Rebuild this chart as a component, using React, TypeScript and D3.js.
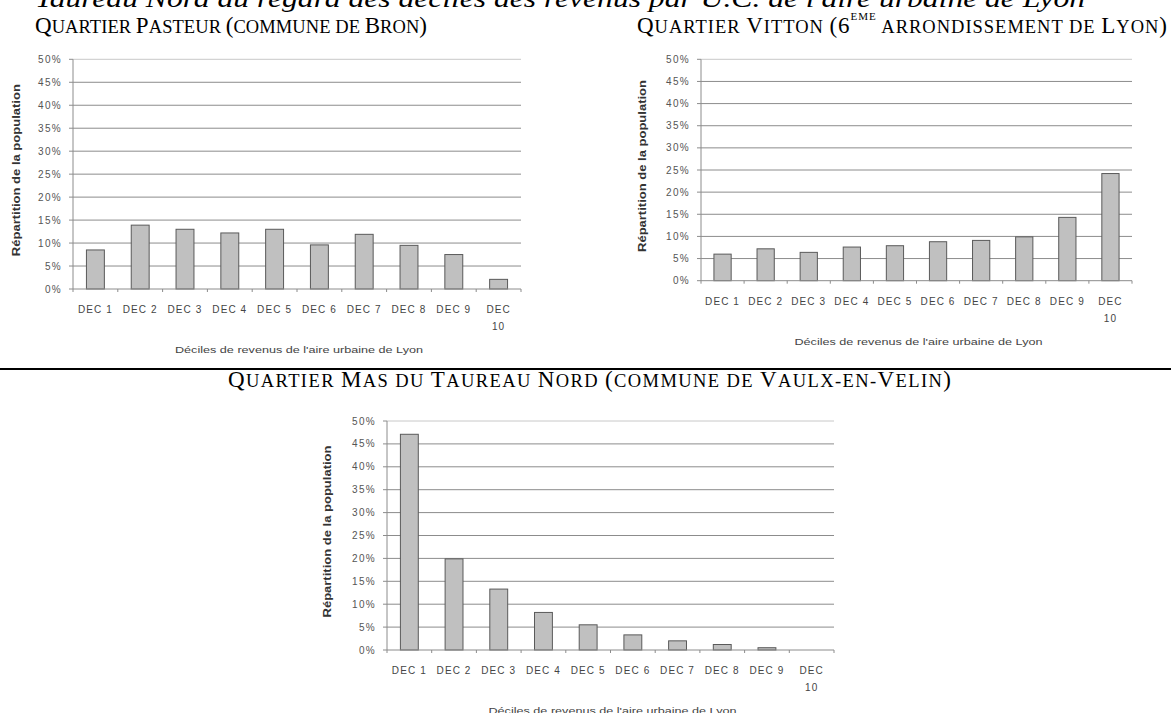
import React from 'react';
import * as d3 from 'd3';

// déciles de revenus (axe des x)
const categories = ['DEC 1', 'DEC 2', 'DEC 3', 'DEC 4', 'DEC 5', 'DEC 6', 'DEC 7', 'DEC 8', 'DEC 9', 'DEC 10'];
// répartition de la population, en %
const pasteur = [8.5, 13.9, 13.0, 12.2, 13.0, 9.6, 11.9, 9.5, 7.5, 2.1];
const vitton = [6.0, 7.2, 6.4, 7.6, 7.9, 8.8, 9.1, 9.9, 14.3, 24.2];
const masDuTaureau = [47.1, 19.9, 13.3, 8.2, 5.5, 3.3, 2.0, 1.2, 0.5, 0];
const yTicks = [0, 5, 10, 15, 20, 25, 30, 35, 40, 45, 50];

const yTitle = 'Répartition de la population';
const xTitle = "Déciles de revenus de l'aire urbaine de Lyon";
const mainTitle = "Taureau Nord au regard des déciles des revenus par U.C. de l'aire urbaine de Lyon";

const SANS = '"Liberation Sans", Arial, sans-serif';
const SERIF = '"Liberation Serif", "Times New Roman", serif';
const BIG = 23;
const SMALL = 18.5;

// petites capitales faites à la main : majuscules en grand, minuscules en petit
function SmallCaps({ text }) {
	const runs = [];
	let cur = null;
	for (const ch of text) {
		const isBig = ch !== ch.toLowerCase() || /[0-9()]/.test(ch);
		const isSpace = ch === ' ';
		const kind = isSpace ? (cur ? cur.kind : 'small') : (isBig ? 'big' : 'small');
		if (!cur || cur.kind !== kind) {
			cur = { kind, s: '' };
			runs.push(cur);
		}
		cur.s += ch.toUpperCase();
	}
	return (
		<>
			{runs.map((r, i) => (
				<tspan key={i} fontSize={r.kind === 'big' ? BIG : SMALL}>{r.s}</tspan>
			))}
		</>
	);
}

function Panel({ values, left, right, top, bottom, yTitleX }) {
	const x = d3.scaleBand()
		.domain(categories)
		.range([left, right])
		.paddingInner(0.6)
		.paddingOuter(0.3);
	const y = d3.scaleLinear().domain([0, 50]).range([bottom, top]);
	const step = x.step();
	const boundaries = d3.range(categories.length + 1).map(i => left + i * step);
	const midY = (top + bottom) / 2 - 4;

	return (
		<g>
			{/* grille */}
			{yTicks.filter(t => t > 0).map(t => (
				<line key={t} x1={left} x2={right} y1={y(t)} y2={y(t)}
					stroke={t === 50 ? '#c8c8c8' : '#8c8c8c'} strokeWidth={1} />
			))}
			{/* barres */}
			{values.map((v, i) => (
				v > 0 ? <rect key={i} x={x(categories[i])} y={y(v)} width={x.bandwidth()}
					height={y(0) - y(v)} fill="#c0c0c0" stroke="#5a5a5a" strokeWidth={1} /> : null
			))}
			{/* axes */}
			<line x1={left} x2={left} y1={top} y2={bottom} stroke="#8c8c8c" />
			<line x1={left} x2={right} y1={bottom} y2={bottom} stroke="#8c8c8c" />
			{yTicks.map(t => (
				<g key={t}>
					<line x1={left - 4} x2={left} y1={y(t)} y2={y(t)} stroke="#8c8c8c" />
					<text x={left - 11} y={y(t) + 3.5} textAnchor="end" fontFamily={SANS}
						fontSize={10} letterSpacing={1.3} fill="#555">{t + '%'}</text>
				</g>
			))}
			{boundaries.map((b, i) => (
				<line key={i} x1={b} x2={b} y1={bottom} y2={bottom + 3} stroke="#8c8c8c" />
			))}
			{categories.map(c => {
				const cx = x(c) + x.bandwidth() / 2;
				const lines = c.length > 5 ? c.split(' ') : [c];
				return (
					<text key={c} x={cx} y={bottom + 24} textAnchor="middle" fontFamily={SANS}
						fontSize={10} letterSpacing={1.1} fill="#444">
						{lines.map((l, k) => (
							<tspan key={k} x={cx} dy={k === 0 ? 0 : 17}>{l}</tspan>
						))}
					</text>
				);
			})}
			<text transform={`translate(${yTitleX},${midY}) rotate(-90)`} textAnchor="middle"
				fontFamily={SANS} fontSize={10} fontWeight="bold" fill="#333"
				textLength={172} lengthAdjust="spacingAndGlyphs">{yTitle}</text>
			<text x={(left + right) / 2 + 2} y={bottom + 64} textAnchor="middle" fontFamily={SANS}
				fontSize={9.5} fill="#444" textLength={248} lengthAdjust="spacingAndGlyphs">{xTitle}</text>
		</g>
	);
}

export default function App() {
	return (
		<div style={{ position: 'absolute', left: 0, top: 0, width: 1171, height: 713, overflow: 'hidden', background: '#fff' }}>
			<svg width={1171} height={713} style={{ display: 'block' }}>
				<text x={35} y={7} fontFamily={SERIF} fontStyle="italic" fontSize={26}
					textLength={1050} lengthAdjust="spacingAndGlyphs">{mainTitle}</text>

				<text x={35} y={33} fontFamily={SERIF} fill="#000" textLength={392} lengthAdjust="spacing">
					<SmallCaps text="Quartier Pasteur (commune de Bron)" />
				</text>
				<text x={637} y={33} fontFamily={SERIF} fill="#000" textLength={530} lengthAdjust="spacing">
					<SmallCaps text="Quartier Vitton (6" />
					<tspan fontSize={11} dy={-13}>EME</tspan>
					<tspan dy={13}><SmallCaps text=" arrondissement de Lyon)" /></tspan>
				</text>

				<Panel values={pasteur} left={73} right={521} top={59.3} bottom={289} yTitleX={20} />
				<Panel values={vitton} left={701} right={1132} top={59.3} bottom={280.7} yTitleX={646} />

				<line x1={0} x2={1171} y1={369} y2={369} stroke="#000" strokeWidth={2} />

				<text x={228} y={387} fontFamily={SERIF} fill="#000" textLength={723} lengthAdjust="spacing">
					<SmallCaps text="Quartier Mas du Taureau Nord (commune de Vaulx-en-Velin)" />
				</text>

				<Panel values={masDuTaureau} left={387} right={834} top={421} bottom={650} yTitleX={331} />
			</svg>
		</div>
	);
}
